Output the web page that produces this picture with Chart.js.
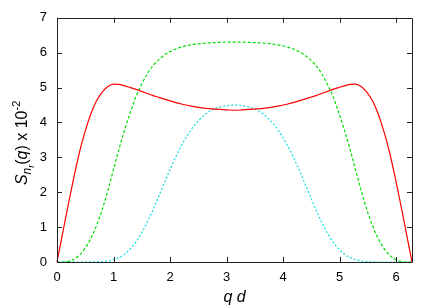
<!DOCTYPE html>
<html>
<head>
<meta charset="utf-8">
<script src="https://cdn.jsdelivr.net/npm/chart.js@4"></script>
<style>
  html, body { margin: 0; padding: 0; background: #fff; }
  #wrap { width: 436px; height: 305px; }
</style>
</head>
<body>
<div id="wrap"><canvas id="structChart"></canvas></div>
<script>
// q d values (0 .. 2 pi)
const qd = [0, 0.1, 0.2, 0.3, 0.4, 0.5, 0.6, 0.7, 0.8, 0.9, 1.0, 1.1, 1.2, 1.3, 1.4, 1.5, 1.6, 1.7, 1.8, 1.9, 2.0, 2.2, 2.4, 2.6, 2.8, 3.0, 3.142,
    3.283, 3.483, 3.683, 3.883, 4.083, 4.283, 4.383, 4.483, 4.583, 4.683, 4.783, 4.883, 4.983, 5.083, 5.183, 5.283, 5.383, 5.483, 5.583, 5.683, 5.783, 5.883, 5.983, 6.083, 6.183, 6.283];

const redCurve = [0, 0.83, 1.65, 2.44, 3.16, 3.76, 4.25, 4.62, 4.87, 5.03, 5.1, 5.09, 5.05, 5.0, 4.95, 4.89, 4.83, 4.77, 4.72, 4.67, 4.62, 4.53, 4.46, 4.41, 4.38, 4.36, 4.35,
    4.36, 4.38, 4.41, 4.46, 4.53, 4.62, 4.67, 4.72, 4.77, 4.83, 4.89, 4.95, 5.0, 5.05, 5.09, 5.1, 5.03, 4.87, 4.62, 4.25, 3.76, 3.16, 2.44, 1.65, 0.83, 0];

const greenCurve = [0, 0, 0.02, 0.08, 0.2, 0.4, 0.68, 1.05, 1.5, 2.05, 2.65, 3.25, 3.8, 4.3, 4.75, 5.1, 5.4, 5.63, 5.8, 5.93, 6.03, 6.16, 6.23, 6.27, 6.29, 6.3, 6.3,
    6.3, 6.29, 6.27, 6.23, 6.16, 6.03, 5.93, 5.8, 5.63, 5.4, 5.1, 4.75, 4.3, 3.8, 3.25, 2.65, 2.05, 1.5, 1.05, 0.68, 0.4, 0.2, 0.08, 0.02, 0, 0];

const cyanCurve = [0, 0, 0, 0, 0, 0, 0, 0.005, 0.01, 0.03, 0.07, 0.13, 0.23, 0.38, 0.58, 0.84, 1.15, 1.5, 1.88, 2.27, 2.65, 3.33, 3.85, 4.2, 4.4, 4.48, 4.5,
    4.48, 4.4, 4.2, 3.85, 3.33, 2.65, 2.27, 1.88, 1.5, 1.15, 0.84, 0.58, 0.38, 0.23, 0.13, 0.07, 0.03, 0.01, 0.005, 0, 0, 0, 0, 0, 0, 0];

const xTicks = [0, 1, 2, 3, 4, 5, 6];
const yTicks = [0, 1, 2, 3, 4, 5, 6, 7];

const FONT = "'Liberation Sans', Arial, sans-serif";

function points(ys) {
    return qd.map((x, i) => ({ x: x, y: ys[i] }));
}

function line(ys, color, dash) {
    return {
        data: points(ys),
        borderColor: color,
        borderWidth: 1.2,
        borderDash: dash,
        pointRadius: 0,
        fill: false,
        cubicInterpolationMode: "monotone",
        clip: 3
    };
}

// gnuplot-like frame with inward ticks on all four sides
const framePlugin = {
    id: "frame",
    afterDatasetsDraw(chart) {
        const { ctx, chartArea: a, scales } = chart;
        ctx.save();
        ctx.strokeStyle = "#222";
        ctx.lineWidth = 1;
        ctx.beginPath();
        ctx.rect(Math.round(a.left) + 0.5, Math.round(a.top) + 0.5,
                 Math.round(a.right - a.left), Math.round(a.bottom - a.top));
        xTicks.forEach(v => {
            const px = Math.round(scales.x.getPixelForValue(v)) + 0.5;
            ctx.moveTo(px, a.bottom); ctx.lineTo(px, a.bottom - 5);
            ctx.moveTo(px, a.top); ctx.lineTo(px, a.top + 5);
        });
        yTicks.forEach(v => {
            const py = Math.round(scales.y.getPixelForValue(v)) + 0.5;
            ctx.moveTo(a.left, py); ctx.lineTo(a.left + 5, py);
            ctx.moveTo(a.right, py); ctx.lineTo(a.right - 5, py);
        });
        ctx.stroke();

        // axis titles
        ctx.fillStyle = "#000";
        ctx.textBaseline = "alphabetic";
        ctx.font = "italic 16px " + FONT;
        ctx.textAlign = "center";
        ctx.fillText("q d", (a.left + a.right) / 2, 302);

        const parts = [
            { t: "S", f: "italic 16px " + FONT, dy: 0 },
            { t: "n", f: "italic 12px " + FONT, dy: 4 },
            { t: "r", f: "italic 9px " + FONT, dy: 7 },
            { t: "(", f: "16px " + FONT, dy: 0 },
            { t: "q", f: "italic 16px " + FONT, dy: 0 },
            { t: ") x 10", f: "16px " + FONT, dy: 0 },
            { t: "-2", f: "11px " + FONT, dy: -7 }
        ];
        let total = 0;
        parts.forEach(p => { ctx.font = p.f; p.w = ctx.measureText(p.t).width; total += p.w; });
        ctx.translate(27, (a.top + a.bottom) / 2 + 3);
        ctx.rotate(-Math.PI / 2);
        ctx.textAlign = "left";
        let x = -total / 2;
        parts.forEach(p => {
            ctx.font = p.f;
            ctx.fillText(p.t, x, p.dy);
            x += p.w;
        });
        ctx.restore();
    }
};

new Chart(document.getElementById("structChart").getContext("2d"), {
    type: "line",
    data: {
        datasets: [
            line(redCurve, "#ff0000", []),
            line(greenCurve, "#00dd00", [3, 2]),
            line(cyanCurve, "#11dddd", [2, 2])
        ]
    },
    options: {
        responsive: true,
        maintainAspectRatio: false,
        animation: false,
        layout: { padding: { top: 17, right: 24, left: 0, bottom: 0 } },
        plugins: {
            legend: { display: false },
            tooltip: { enabled: false }
        },
        scales: {
            x: {
                type: "linear",
                min: 0,
                max: 6.283,
                grid: { display: false, drawTicks: false },
                border: { display: false },
                afterBuildTicks: s => { s.ticks = xTicks.map(v => ({ value: v })); },
                afterFit: s => { s.height = 43; },
                ticks: {
                    color: "#000",
                    padding: 8,
                    maxRotation: 0,
                    font: { family: FONT, size: 13 }
                }
            },
            y: {
                min: 0,
                max: 7,
                grid: { display: false, drawTicks: false },
                border: { display: false },
                afterBuildTicks: s => { s.ticks = yTicks.map(v => ({ value: v })); },
                afterFit: s => { s.width = 57; },
                ticks: {
                    color: "#000",
                    padding: 10,
                    font: { family: FONT, size: 13 }
                }
            }
        }
    },
    plugins: [framePlugin]
});
</script>
</body>
</html>
